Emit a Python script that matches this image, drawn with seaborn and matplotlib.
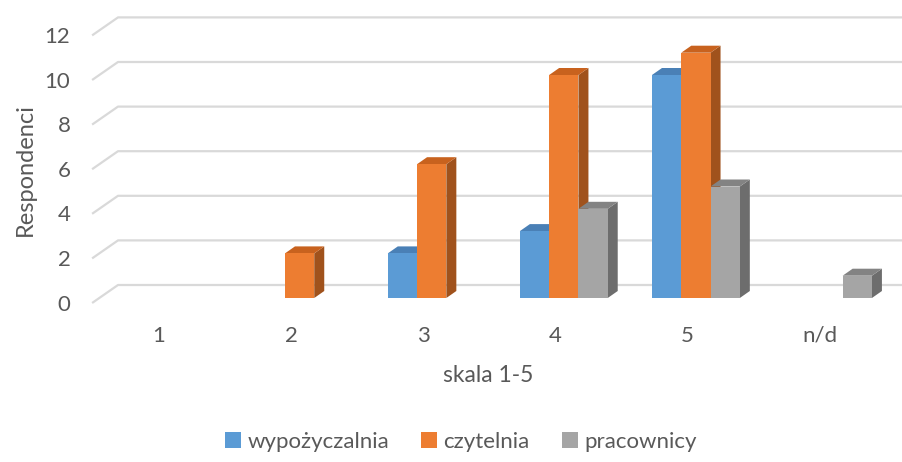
import numpy as np
import pandas as pd
import matplotlib
matplotlib.use("Agg")
import matplotlib.pyplot as plt
from matplotlib.patches import Polygon, Patch
import seaborn as sns

# ---- data ----
categories = ["1", "2", "3", "4", "5", "n/d"]
wypozyczalnia = [0, 0, 2, 3, 10, 0]
czytelnia = [0, 2, 6, 10, 11, 0]
pracownicy = [0, 0, 0, 4, 5, 1]
series_names = ["wypożyczalnia", "czytelnia", "pracownicy"]
y_ticks = [0, 2, 4, 6, 8, 10, 12]
x_title = "skala 1-5"
y_title = "Respondenci"

# ---- style ----
front_colors = ["#5B9BD5", "#ED7D31", "#A5A5A5"]
top_colors = ["#4A80B6", "#C8621E", "#838383"]
side_colors = ["#3D6B96", "#A0521C", "#6D6D6D"]
text_color = "#595959"
grid_color = "#D9D9D9"
tick_size = 16
title_size = 16.5

df = pd.DataFrame({
    "ocena": categories * len(series_names),
    "miejsce": np.repeat(series_names, len(categories)),
    "liczba": wypozyczalnia + czytelnia + pracownicy,
})

sns.set_theme(style="white")
plt.rcParams["font.family"] = ["Lato", "DejaVu Sans"]

W, H = 902, 462
fig = plt.figure(figsize=(W / 100, H / 100), dpi=100)
ax = fig.add_axes([0, 0, 1, 1])

sns.barplot(data=df, x="ocena", y="liczba", hue="miejsce",
            hue_order=series_names, order=categories,
            palette=front_colors, saturation=1, width=0.665,
            linewidth=0, legend=False, ax=ax, zorder=3)

# oblique projection: data units per pixel
PX_X = 132.1   # pixels per category step
PX_Y = 22.3    # pixels per value unit
X0, Y0 = 167.5, 298.0   # pixel position of first category centre / value 0
ax.set_xlim(-X0 / PX_X, (W - X0) / PX_X)
ax.set_ylim((Y0 - H) / PX_Y, Y0 / PX_Y)
ax.axis("off")


def px(dx, dy):
    return dx / PX_X, dy / PX_Y


bar_d = px(10, 7)          # depth of a bar
wall_d = px(18.7, 13)      # back wall relative to bar fronts
floor_d = px(-7.2, -5)     # front edge of the floor
back_left = (118 - X0) / PX_X
x_right = (W - X0) / PX_X

# gridlines: diagonal on the side wall + horizontal on the back wall
for v in y_ticks:
    xl_front = back_left - (wall_d[0] - floor_d[0])
    ax.plot([xl_front, back_left, x_right],
            [v + floor_d[1], v + wall_d[1], v + wall_d[1]],
            color=grid_color, lw=1.6, zorder=0.5, solid_capstyle="butt")
    ax.text(-0.735, v - 0.3, str(v), ha="right", va="center",
            fontsize=tick_size, color=text_color)

# top and side faces of each bar
dx, dy = bar_d
for s, cont in enumerate(ax.containers):
    for bar in cont:
        h = bar.get_height()
        if not h or h <= 0:
            continue
        x0 = bar.get_x()
        w = bar.get_width()
        side = Polygon([(x0 + w, 0), (x0 + w + dx, dy),
                        (x0 + w + dx, h + dy), (x0 + w, h)],
                       closed=True, facecolor=side_colors[s],
                       edgecolor="none", zorder=1)
        top = Polygon([(x0, h), (x0 + w, h), (x0 + w + dx, h + dy),
                       (x0 + dx, h + dy)],
                      closed=True, facecolor=top_colors[s],
                      edgecolor="none", zorder=1.5)
        ax.add_patch(side)
        ax.add_patch(top)

# category labels along the floor front
for k, c in enumerate(categories):
    ax.text(k - 8.5 / PX_X, (Y0 - 336) / PX_Y, c, ha="center", va="center",
            fontsize=tick_size, color=text_color)

ax.text((488 - X0) / PX_X, (Y0 - 375) / PX_Y, x_title, ha="center",
        va="center", fontsize=title_size, color=text_color)
ax.text((25 - X0) / PX_X, (Y0 - 170) / PX_Y, y_title, ha="center",
        va="center", rotation=90, fontsize=title_size + 0.5, color=text_color)

handles = [Patch(facecolor=c, edgecolor="none") for c in front_colors]
fig.legend(handles, series_names, loc="center",
           bbox_to_anchor=(461 / W, 1 - 442 / H), ncol=3, frameon=False,
           handlelength=0.7, handleheight=0.7, handletextpad=0.3,
           columnspacing=1.45, fontsize=tick_size, labelcolor=text_color)

fig.savefig("out.png", dpi=100)
